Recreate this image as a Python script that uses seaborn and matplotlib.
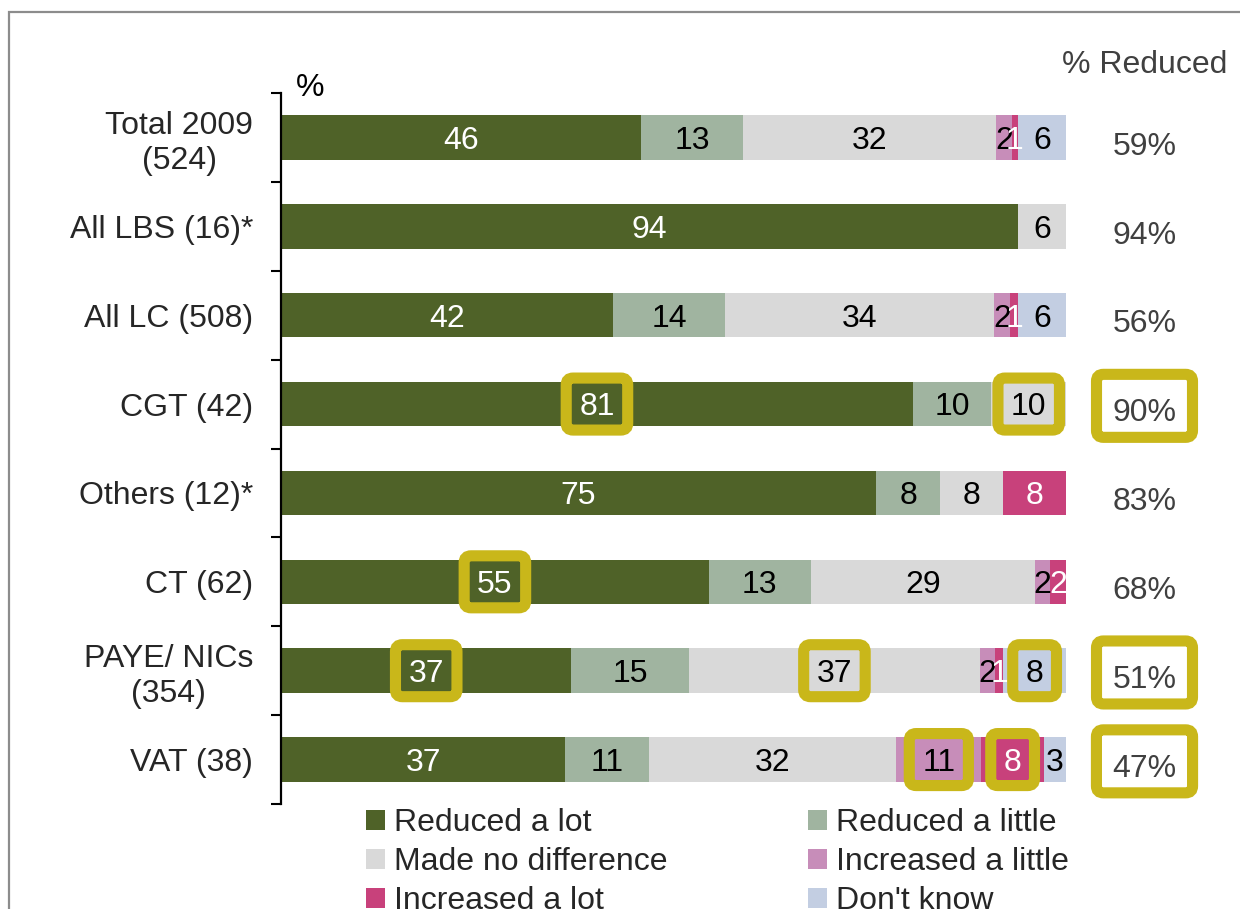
import numpy as np
import pandas as pd
import matplotlib
matplotlib.use("Agg")
import matplotlib.pyplot as plt
import seaborn as sns
from matplotlib.patches import FancyBboxPatch, Patch, Rectangle
from matplotlib.transforms import IdentityTransform

# ---------------- data ----------------
categories = ["Total 2009\n(524)", "All LBS (16)*", "All LC (508)", "CGT (42)",
              "Others (12)*", "CT (62)", "PAYE/ NICs\n(354)", "VAT (38)"]
series = ["Reduced a lot", "Reduced a little", "Made no difference",
          "Increased a little", "Increased a lot", "Don't know"]

# segment widths (%)
reduced_lot      = [45.9, 93.9, 42.3, 80.5, 75.8, 54.5, 37.0, 36.2]
reduced_little   = [13.0, 0.0, 14.3, 10.0, 8.2, 13.0, 15.0, 10.7]
no_difference    = [32.2, 6.1, 34.2, 9.5, 8.0, 28.5, 37.0, 31.5]
increased_little = [2.0, 0.0, 2.1, 0.0, 0.0, 2.0, 2.0, 10.8]
increased_lot    = [0.8, 0.0, 1.0, 0.0, 8.0, 2.0, 1.0, 8.0]
dont_know        = [6.1, 0.0, 6.1, 0.0, 0.0, 0.0, 8.0, 2.8]

# printed value labels (None = no label)
lbl_reduced_lot      = [46, 94, 42, 81, 75, 55, 37, 37]
lbl_reduced_little   = [13, None, 14, 10, 8, 13, 15, 11]
lbl_no_difference    = [32, 6, 34, 10, 8, 29, 37, 32]
lbl_increased_little = [2, None, 2, None, None, 2, 2, 11]
lbl_increased_lot    = [1, None, 1, None, 8, 2, 1, 8]
lbl_dont_know        = [6, None, 6, None, None, None, 8, 3]

pct_reduced = [59, 94, 56, 90, 83, 68, 51, 47]

# highlighted cells: (category index, series index) and highlighted % column rows
highlight_cells = [(3, 0), (3, 2), (5, 0), (6, 0), (6, 2), (6, 5), (7, 3), (7, 4)]
highlight_pct = [3, 6, 7]

# ---------------- style ----------------
colors = ["#4F6228", "#A0B4A0", "#D9D9D9", "#C78DB9", "#C8417B", "#C3CEE2"]
label_colors = ["white", "black", "black", "black", "white", "black"]
HL = "#C9B71A"
GREY_TXT = "#404040"

sns.set_style("white")
plt.rcParams["font.family"] = ["Liberation Sans", "DejaVu Sans"]
FS = 23

values = [reduced_lot, reduced_little, no_difference, increased_little, increased_lot, dont_know]
labels = [lbl_reduced_lot, lbl_reduced_little, lbl_no_difference,
          lbl_increased_little, lbl_increased_lot, lbl_dont_know]

df = pd.DataFrame({"category": categories})
for name, vals in zip(series, values):
    df[name] = vals
cum = df[series].cumsum(axis=1)

W, H = 1240, 909
fig = plt.figure(figsize=(W / 100, H / 100), dpi=100)
ax = fig.add_axes([281 / W, 1 - 804 / H, 785 / W, 711 / H])

# stacked bars via cumulative overlap (largest first)
for i in reversed(range(len(series))):
    sns.barplot(x=cum[series[i]].values, y=df["category"], orient="h",
                color=colors[i], saturation=1, width=0.5, errorbar=None,
                ax=ax, linewidth=0)

ax.set_xlim(0, 100)
ax.set_ylim(len(categories) - 0.5, -0.5)
ax.set_xlabel("")
ax.set_ylabel("")
ax.xaxis.set_visible(False)
for s in ["top", "right", "bottom"]:
    ax.spines[s].set_visible(False)
ax.spines["left"].set_linewidth(1.6)
ax.spines["left"].set_color("black")

ypos = np.arange(len(categories))
ax.set_yticks(ypos)
ax.set_yticklabels(categories, fontsize=FS, multialignment="center", linespacing=1.2)
ax.tick_params(axis="y", which="major", left=False, length=0, pad=20)
ax.set_yticks(np.arange(-0.5, len(categories), 1), minor=True)
ax.tick_params(axis="y", which="minor", left=True, length=7, width=1.5,
               color="black", direction="out")

# segment labels
seg_texts = {}
for i in range(len(series)):
    left = (cum[series[i]] - df[series[i]]).values
    for j in range(len(categories)):
        lab = labels[i][j]
        if lab is None:
            continue
        xc = left[j] + values[i][j] / 2
        t = ax.annotate(str(lab), (xc, j), xytext=(0, -8.2), textcoords="offset points",
                        ha="center", va="baseline", fontsize=FS, color=label_colors[i],
                        zorder=5)
        seg_texts[(j, i)] = t

# % Reduced column
pct_texts = {}
for j, p in enumerate(pct_reduced):
    t = ax.annotate(f"{p}%", (110, j), xytext=(0, -12.4), textcoords="offset points",
                    ha="center", va="baseline", fontsize=FS, color=GREY_TXT,
                    annotation_clip=False)
    pct_texts[j] = t

ax.text(110, -0.81, "% Reduced", ha="center", va="center", fontsize=FS,
        color=GREY_TXT, clip_on=False)
ax.text(3.7, -0.56, "%", ha="center", va="center", fontsize=FS, color="black",
        clip_on=False)

# legend
order = [0, 2, 4, 1, 3, 5]
handles = [Patch(facecolor=colors[k], edgecolor="none", label=series[k]) for k in order]
fig.legend(handles=handles, loc="upper left", bbox_to_anchor=(366 / W, 1 - 808 / H),
           ncol=2, frameon=False, fontsize=FS, handlelength=0.58, handleheight=0.58,
           handletextpad=0.3, columnspacing=4.4, labelspacing=0.28, borderpad=0,
           borderaxespad=0)

# outer frame
fig.add_artist(Rectangle((9 / W, -0.1), 1.2, 1 - 12 / H + 0.1, transform=fig.transFigure,
                         fill=False, edgecolor="#8C8C8C", linewidth=1.6))

# highlight boxes
fig.canvas.draw()
r = fig.canvas.get_renderer()


def box_around(txt, data_xy, padx, h):
    bb = txt.get_window_extent(r)
    cx = (bb.x0 + bb.x1) / 2
    cy = ax.transData.transform(data_xy)[1]
    w = bb.width + 2 * padx
    p = FancyBboxPatch((cx - w / 2, cy - h / 2), w, h,
                       boxstyle="round,pad=0,rounding_size=7",
                       transform=IdentityTransform(), facecolor="none",
                       edgecolor=HL, linewidth=8, zorder=10)
    fig.add_artist(p)


for (j, i) in highlight_cells:
    box_around(seg_texts[(j, i)], (0, j), 13, 52)
for j in highlight_pct:
    box_around(pct_texts[j], (0, j + 0.02), 16, 63)

fig.savefig("out.png", dpi=100)
